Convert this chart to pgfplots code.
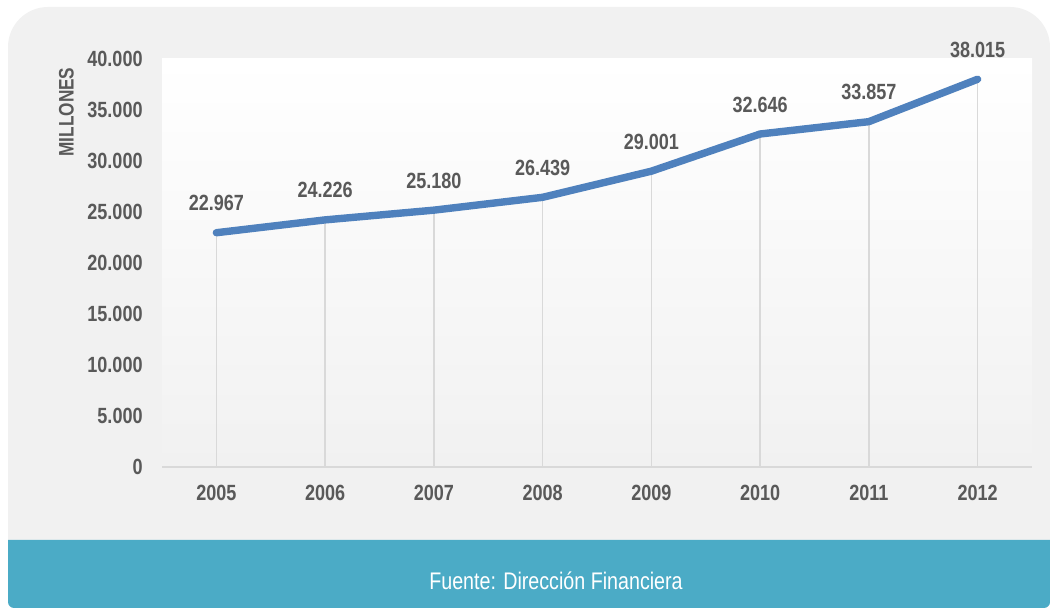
\documentclass[border=0pt]{standalone}
\usepackage{fontspec}
\setmainfont{Liberation Sans}[FakeStretch=0.82]
\usepackage{pgfplots}
\pgfplotsset{compat=1.18}
\usepackage{pgfplotstable}

\definecolor{txt}{HTML}{595959}
\definecolor{panel}{HTML}{F1F1F1}
\definecolor{band}{HTML}{4BABC6}
\definecolor{serie}{HTML}{4F81BD}
\definecolor{grd}{HTML}{D9D9D9}

\pgfplotstableread{
x y
0 22967
1 24226
2 25180
3 26439
4 29001
5 32646
6 33857
7 38015
}\datos

\begin{document}
\begin{tikzpicture}
\useasboundingbox (0pt,0pt) rectangle (525pt,304pt);
% panel and source band
\fill[panel, rounded corners=20pt] (4pt,8pt) rectangle (525pt,300.5pt);
\fill[band] (4pt,34pt) [rounded corners=3pt]-- (4pt,0pt) -- (525pt,0pt) [sharp corners]-- (525pt,34pt) -- cycle;
\node[text=white, font=\fontsize{12}{14}\selectfont] at (278pt,13.5pt) {Fuente: Dirección Financiera};

\begin{axis}[
    at={(81pt,70.5pt)}, anchor=south west,
    scale only axis, width=435pt, height=204pt,
    xmin=-0.5, xmax=7.5, ymin=0, ymax=40000,
    xtick={0,...,7}, xticklabels={2005,2006,2007,2008,2009,2010,2011,2012},
    ytick={0,5000,...,40000},
    scaled y ticks=false,
    axis line style={draw=none},
    major tick length=0pt,
    tick label style={font=\bfseries\fontsize{11}{13}\selectfont, text=txt},
    xticklabel style={anchor=base, inner sep=0pt, yshift=-17pt},
    yticklabel style={anchor=east, inner sep=0pt, xshift=-9.5pt},
    /pgf/number format/.cd, 1000 sep={.}, assume math mode=true,
    /pgfplots/.cd,
    ylabel={MILLONES},
    ylabel style={at={(axis description cs:-0.11,0.87)}, anchor=center,
        font=\bfseries\fontsize{10.5}{12}\selectfont, text=txt},
    axis background/.style={top color=white, bottom color=panel},
    clip=false,
]
\addplot[grd, line width=0.8pt, ycomb, no marks] table {\datos};
\draw[grd, line width=0.9pt] (rel axis cs:0,0) -- (rel axis cs:1,0);
\addplot[serie, line width=3.7pt, line cap=round, line join=round, no marks,
    nodes near coords,
    every node near coord/.append style={anchor=base, inner sep=0pt, yshift=11pt,
        text=txt, font=\bfseries\fontsize{11}{13}\selectfont}]
    table {\datos};
\end{axis}
\end{tikzpicture}
\end{document}
